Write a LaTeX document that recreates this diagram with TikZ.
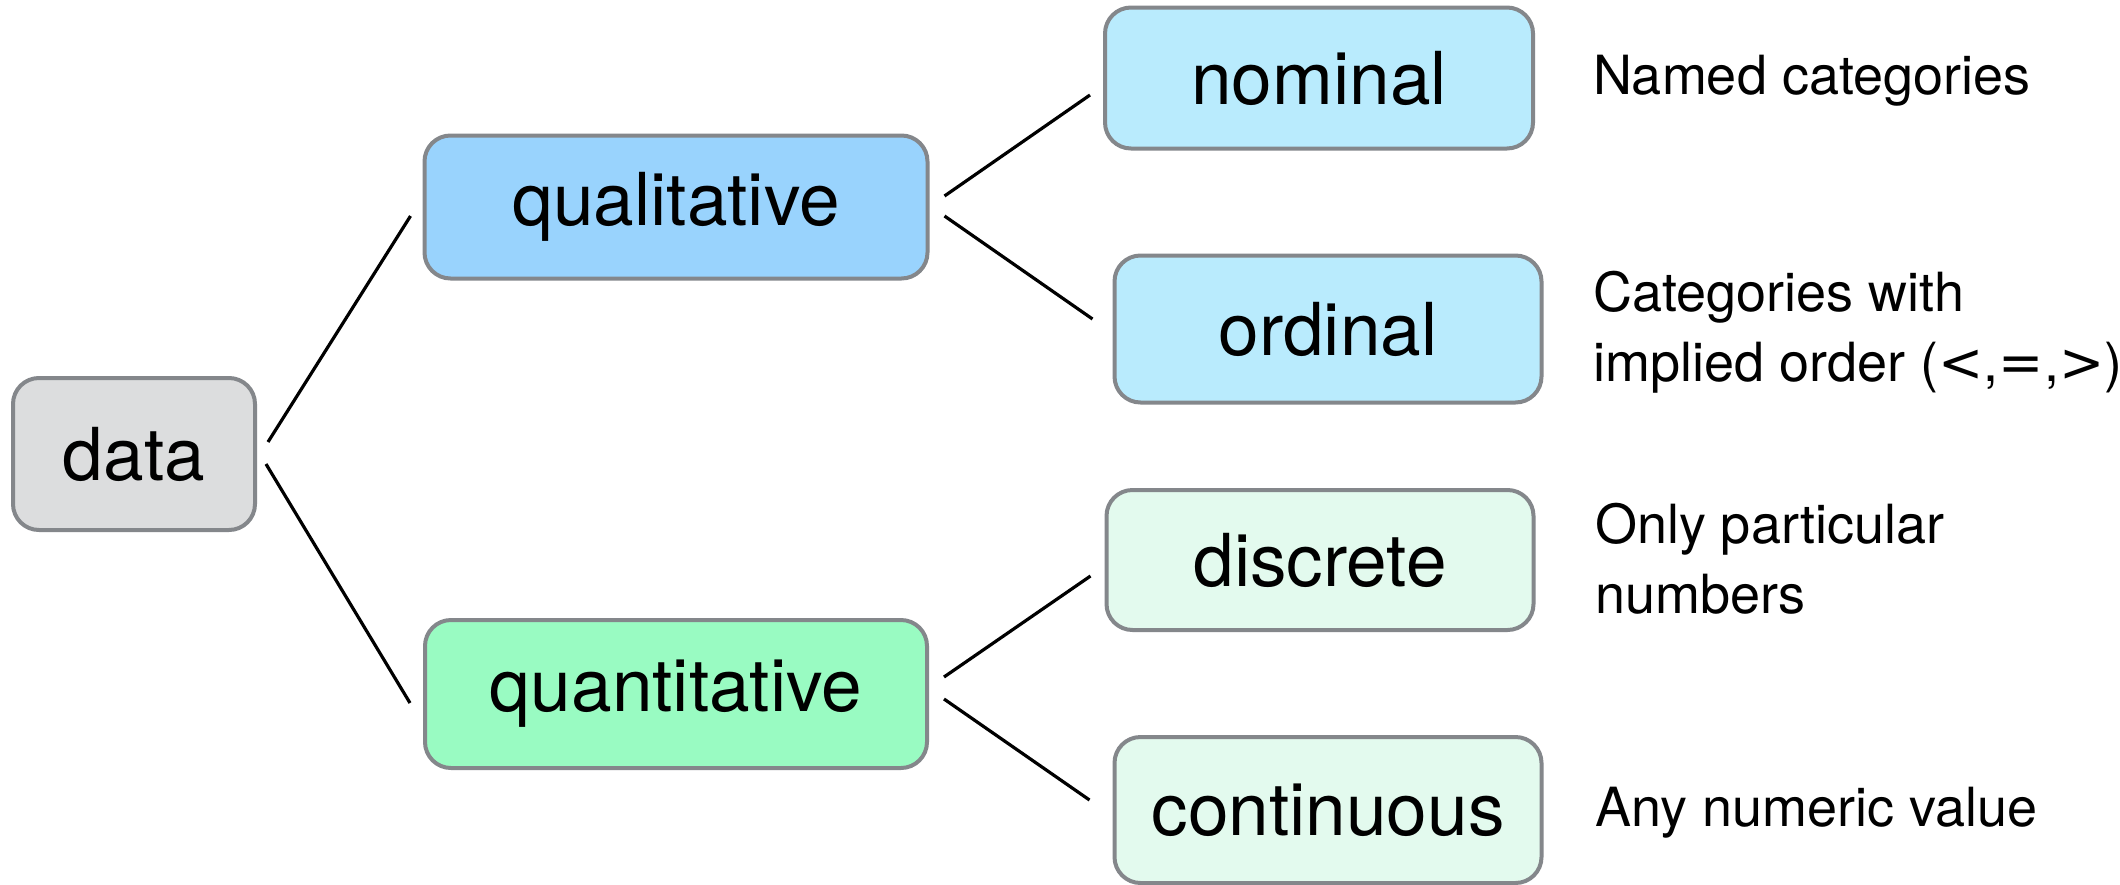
\documentclass[tikz,border=0pt]{standalone}
\usepackage{fontspec}
\setmainfont{TeX Gyre Heros}
\newfontfamily\relfont{DejaVu Sans}
\usetikzlibrary{calc}
\definecolor{bordergray}{HTML}{84878B}
\definecolor{datafill}{HTML}{DCDDDE}
\definecolor{qualfill}{HTML}{99D3FD}
\definecolor{qualsub}{HTML}{B9EBFD}
\definecolor{quantfill}{HTML}{99FBC2}
\definecolor{quantsub}{HTML}{E3FAEE}
\tikzset{
  box/.style={draw=bordergray, line width=4pt, rounded corners=26pt, inner sep=0pt,
    font=\fontsize{73}{80}\selectfont, text=black},
  conn/.style={line width=3.2pt, black},
  desc/.style={anchor=west, align=left, inner sep=0pt, font=\fontsize{54}{70}\selectfont}
}
\begin{document}
\begin{tikzpicture}[x=1pt,y=-1pt]
\useasboundingbox (0,0) rectangle (2120,884);
\fill[white] (0,0) rectangle (2120,884);
\node[box, fill=datafill, minimum width=242pt, minimum height=152pt] (data) at (134,454) {data};
\node[box, fill=qualfill, minimum width=503pt, minimum height=143pt] (qual) at (676,207) {qualitative};
\node[box, fill=quantfill, minimum width=502pt, minimum height=148pt] (quant) at (676,694) {quantitative};
\node[box, fill=qualsub, minimum width=428pt, minimum height=141pt] (nom) at (1319,78) {nominal};
\node[box, fill=qualsub, minimum width=427pt, minimum height=147pt] (ord) at (1328,329) {ordinal};
\node[box, fill=quantsub, minimum width=427pt, minimum height=140pt] (disc) at (1320,560) {discrete};
\node[box, fill=quantsub, minimum width=427pt, minimum height=146pt] (cont) at (1328,810) {continuous};
\node[desc] (dnom) at (1593,81) {Named categories};
\node[desc] (dord) at (1593,332) {Categories with\\implied order ({\relfont<},{\relfont=},{\relfont>})};
\node[desc] (ddisc) at (1595,559) {Only particular\\numbers};
\node[desc] (dcont) at (1595,813) {Any numeric value};
\draw[conn] ($(data.east)+(11,-12)$) -- ($(qual.west)+(-12,9)$);
\draw[conn] ($(data.east)+(9,10)$) -- ($(quant.west)+(-13,9)$);
\draw[conn] ($(qual.east)+(15,-11)$) -- ($(nom.west)+(-13,17)$);
\draw[conn] ($(qual.east)+(15,9)$) -- ($(ord.west)+(-20,-10)$);
\draw[conn] ($(quant.east)+(15,-17)$) -- ($(disc.west)+(-14,16)$);
\draw[conn] ($(quant.east)+(15,5)$) -- ($(cont.west)+(-23,-10)$);
\end{tikzpicture}
\end{document}
